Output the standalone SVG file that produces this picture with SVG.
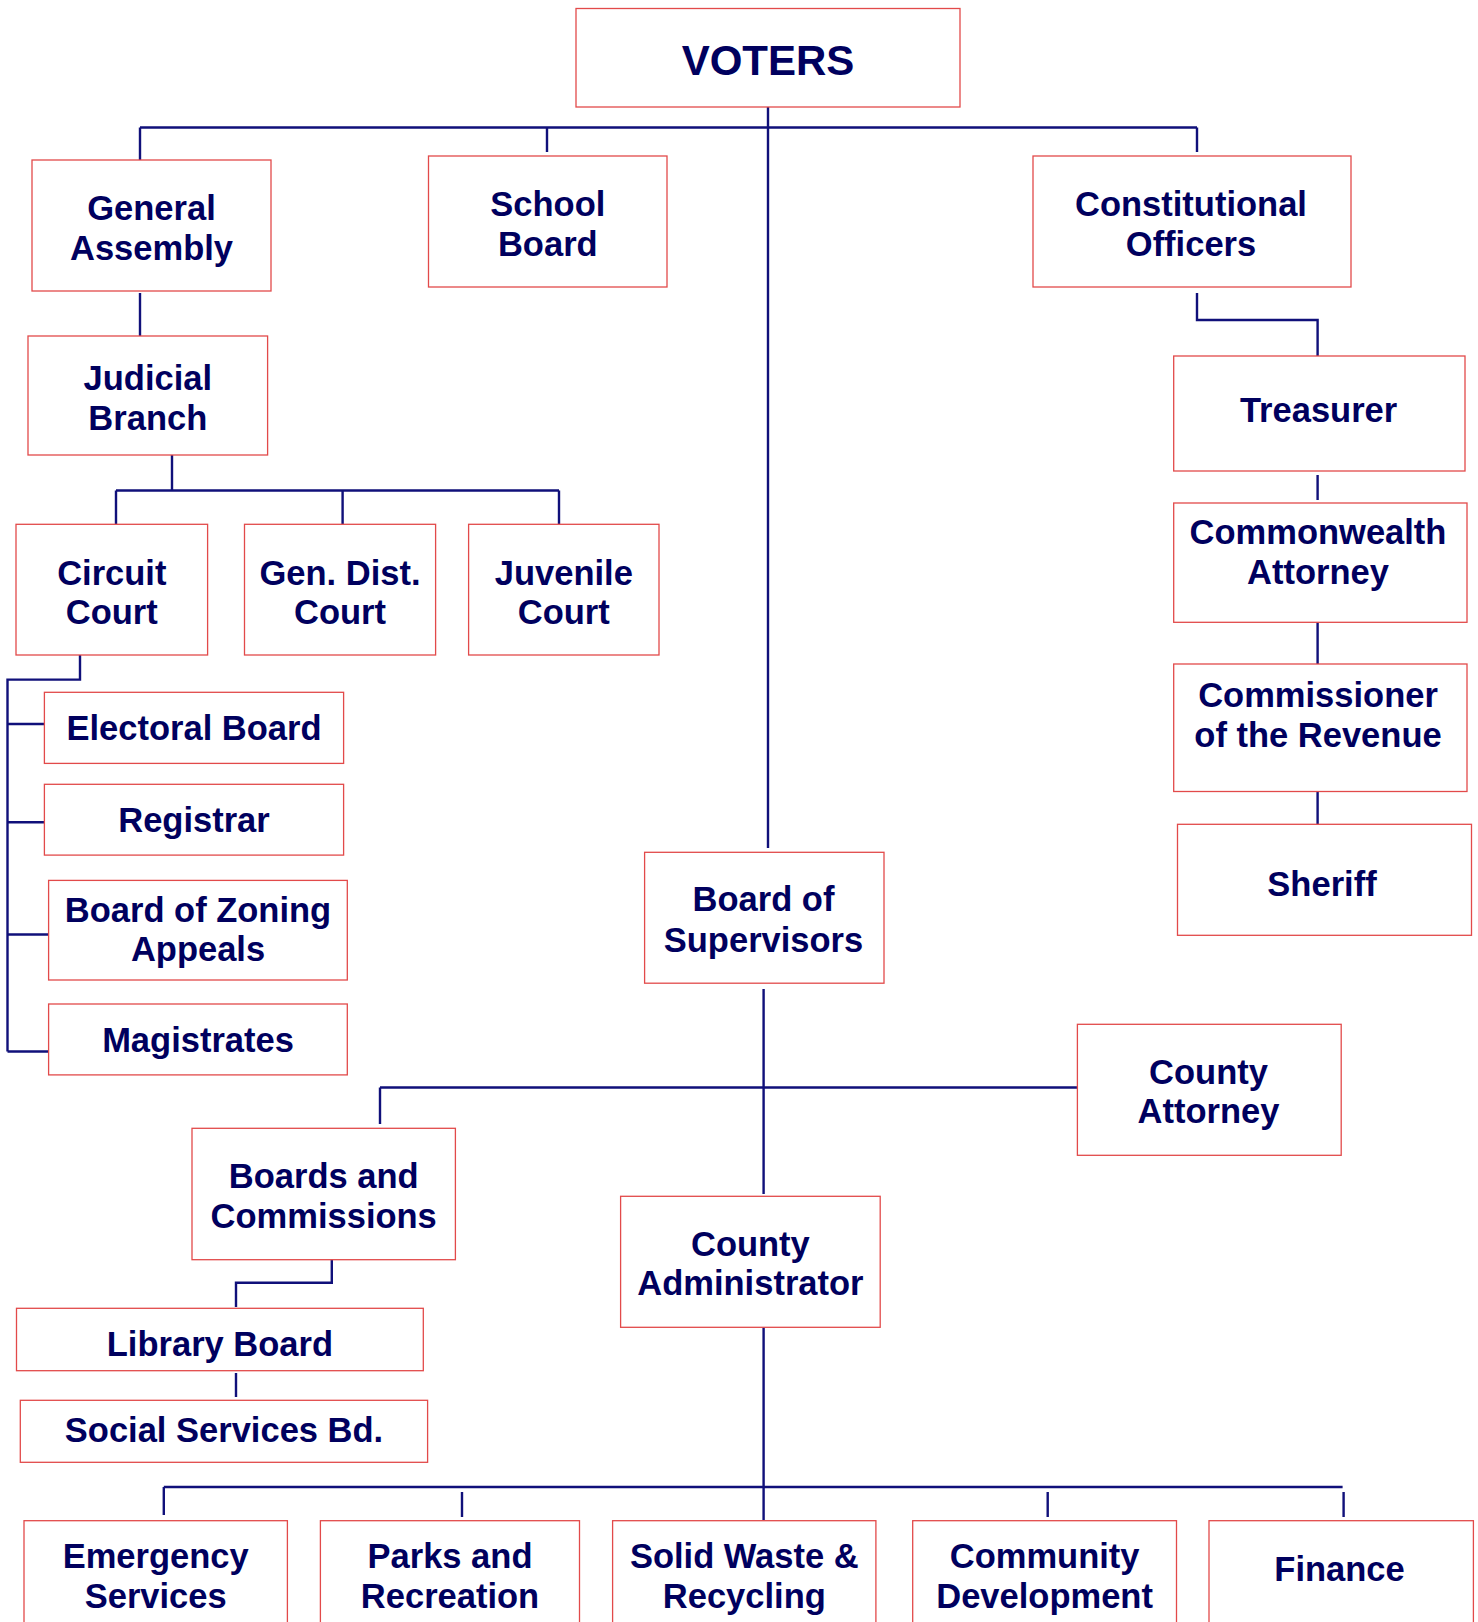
<svg xmlns="http://www.w3.org/2000/svg" width="1478" height="1622" viewBox="0 0 1478 1622">
<style>
.b{fill:#fff;stroke:#e24a4a;stroke-width:1.3}
.t{font-family:"Liberation Sans",Arial,sans-serif;font-weight:bold;font-size:34.5px;fill:#00005e;text-anchor:middle}
.v{font-size:42px}
.c{stroke:#10107a;stroke-width:2.4;fill:none}
</style>
<rect width="1478" height="1622" fill="#fff"/>
<g id="connectors" class="c">
<path d="M768 103V848"/>
<path d="M140 127.5H1197M140 127.5V164M547 127.5V152M1197 127.5V152"/>
<path d="M140 293V338"/>
<path d="M172 453V491M116 490.5H559M116 490.5V524M342.6 490.5V524M559 490.5V524"/>
<path d="M80 655V679.6H7.5V1051.5M7.5 724H44M7.5 822.3H44M7.5 934.5H48.6M7.5 1051.5H48.6"/>
<path d="M1197 293V320H1317.6V356"/>
<path d="M1317.6 475V500M1317.6 619.5V665M1317.6 787V824"/>
<path d="M763.6 989V1194M380 1087.5H1077.4M380 1087.5V1124"/>
<path d="M331.8 1259V1282.7H236V1307M236 1373V1397"/>
<path d="M763.6 1327V1520M163.8 1487H1342.6M163.8 1487V1515M462 1492V1517M1047.7 1492V1517M1343.6 1492V1517"/>
</g>
<g id="voters"><rect class="b" x="576" y="8.5" width="384" height="98.5"/><text class="t v" x="768" y="75">VOTERS</text></g>
<g id="general-assembly"><rect class="b" x="32" y="160" width="239" height="131"/><text class="t" x="151.5" y="220">General</text><text class="t" x="151.5" y="259.5">Assembly</text></g>
<g id="school-board"><rect class="b" x="428.5" y="156" width="238.5" height="131"/><text class="t" x="547.8" y="216">School</text><text class="t" x="547.8" y="255.7">Board</text></g>
<g id="constitutional-officers"><rect class="b" x="1033" y="156" width="318" height="131"/><text class="t" x="1191" y="216">Constitutional</text><text class="t" x="1191" y="255.7">Officers</text></g>
<g id="judicial-branch"><rect class="b" x="28" y="336" width="239.6" height="119"/><text class="t" x="147.8" y="390">Judicial</text><text class="t" x="147.8" y="430">Branch</text></g>
<g id="treasurer"><rect class="b" x="1173.7" y="356" width="291.3" height="115"/><text class="t" x="1318.6" y="421.7">Treasurer</text></g>
<g id="circuit-court"><rect class="b" x="16" y="524.3" width="191.6" height="130.7"/><text class="t" x="111.8" y="584.7">Circuit</text><text class="t" x="111.8" y="624.3">Court</text></g>
<g id="gen-dist-court"><rect class="b" x="244.5" y="524.3" width="191.1" height="130.7"/><text class="t" x="340" y="584.7">Gen. Dist.</text><text class="t" x="340" y="624.3">Court</text></g>
<g id="juvenile-court"><rect class="b" x="468.6" y="524.3" width="190.4" height="130.7"/><text class="t" x="563.8" y="584.7">Juvenile</text><text class="t" x="563.8" y="624.3">Court</text></g>
<g id="commonwealth-attorney"><rect class="b" x="1173.7" y="503" width="293.3" height="119.3"/><text class="t" x="1318" y="544.4">Commonwealth</text><text class="t" x="1318" y="583.6">Attorney</text></g>
<g id="commissioner-revenue"><rect class="b" x="1173.7" y="664" width="293.3" height="127.5"/><text class="t" x="1318" y="706.5">Commissioner</text><text class="t" x="1318" y="746.8">of the Revenue</text></g>
<g id="sheriff"><rect class="b" x="1177.5" y="824.3" width="294" height="111"/><text class="t" x="1322" y="895.8">Sheriff</text></g>
<g id="electoral-board"><rect class="b" x="44.4" y="692.3" width="299.2" height="71.1"/><text class="t" x="194" y="739.7">Electoral Board</text></g>
<g id="registrar"><rect class="b" x="44.4" y="784.3" width="299.2" height="70.8"/><text class="t" x="194" y="831.8">Registrar</text></g>
<g id="board-zoning-appeals"><rect class="b" x="48.6" y="880.4" width="298.7" height="99.6"/><text class="t" x="198" y="921.5">Board of Zoning</text><text class="t" x="198" y="961">Appeals</text></g>
<g id="magistrates"><rect class="b" x="48.6" y="1004" width="298.7" height="70.9"/><text class="t" x="198" y="1052">Magistrates</text></g>
<g id="board-of-supervisors"><rect class="b" x="644.6" y="852.3" width="239.4" height="130.9"/><text class="t" x="763.5" y="910.8">Board of</text><text class="t" x="763.5" y="951.5">Supervisors</text></g>
<g id="county-attorney"><rect class="b" x="1077.4" y="1024.3" width="263.8" height="131"/><text class="t" x="1208.5" y="1083.6">County</text><text class="t" x="1208.5" y="1123.3">Attorney</text></g>
<g id="boards-commissions"><rect class="b" x="192" y="1128.3" width="263.4" height="131.4"/><text class="t" x="323.7" y="1188.3">Boards and</text><text class="t" x="323.7" y="1227.7">Commissions</text></g>
<g id="county-administrator"><rect class="b" x="620.6" y="1196.3" width="259.6" height="131"/><text class="t" x="750.4" y="1255.7">County</text><text class="t" x="750.4" y="1295">Administrator</text></g>
<g id="library-board"><rect class="b" x="16.5" y="1308.3" width="406.8" height="62.4"/><text class="t" x="219.9" y="1355.7">Library Board</text></g>
<g id="social-services"><rect class="b" x="20.3" y="1400.3" width="407.3" height="62"/><text class="t" x="224" y="1441.7">Social Services Bd.</text></g>
<g id="emergency-services"><rect class="b" x="24" y="1520.7" width="263.4" height="130"/><text class="t" x="155.7" y="1568">Emergency</text><text class="t" x="155.7" y="1608">Services</text></g>
<g id="parks-recreation"><rect class="b" x="320.4" y="1520.7" width="259.1" height="130"/><text class="t" x="450" y="1568">Parks and</text><text class="t" x="450" y="1608">Recreation</text></g>
<g id="solid-waste"><rect class="b" x="612.6" y="1520.7" width="263.3" height="130"/><text class="t" x="744.3" y="1568">Solid Waste &amp;</text><text class="t" x="744.3" y="1608">Recycling</text></g>
<g id="community-development"><rect class="b" x="912.7" y="1520.7" width="263.8" height="130"/><text class="t" x="1044.6" y="1568">Community</text><text class="t" x="1044.6" y="1608">Development</text></g>
<g id="finance"><rect class="b" x="1209" y="1520.7" width="264.4" height="130"/><text class="t" x="1339.5" y="1580.5">Finance</text></g>
</svg>
